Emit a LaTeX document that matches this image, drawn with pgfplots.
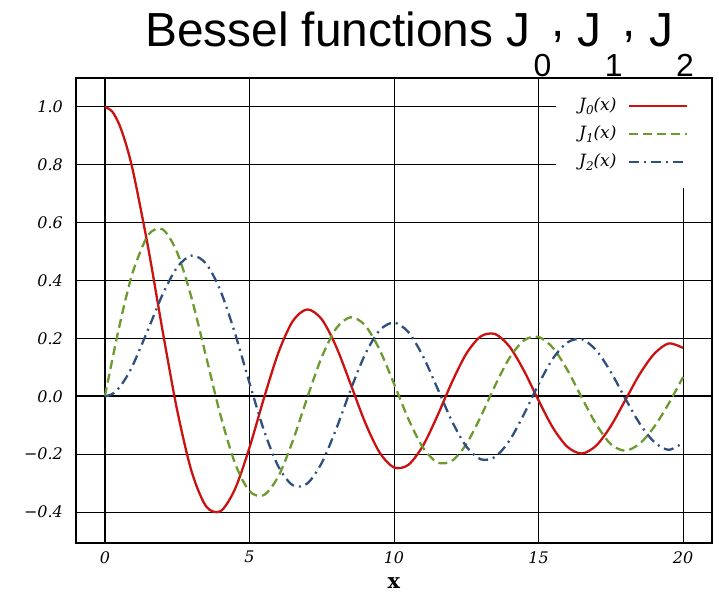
\documentclass[border=0pt]{standalone}
\usepackage{fontspec}
\usepackage{pgfplots}
\pgfplotsset{compat=1.18}
\setmainfont{DejaVu Serif}
\newfontfamily\lib{Liberation Sans}
\definecolor{jred}{RGB}{204,17,17}
\definecolor{jgreen}{RGB}{107,154,46}
\definecolor{jblue}{RGB}{47,79,127}
% title subscripts: big and dropped well below the baseline, as in the reference
\newcommand\sub[1]{\hspace{3bp}\raisebox{-30bp}{\fontsize{32}{32}\selectfont #1}}
\newcommand\lj[1]{J\raisebox{-4bp}{\fontsize{12}{12}\selectfont #1}(x)}
\begin{document}
\begin{tikzpicture}
\useasboundingbox (-76bp,-50bp) rectangle (643bp,543bp);
\begin{axis}[
    scale only axis,
    width=636bp, height=465bp,
    xmin=-1, xmax=21,
    ymin=-0.507, ymax=1.1,
    xtick={5,10,15,20},
    xticklabels={5,10,15,20},
    ytick={-0.4,-0.2,0.2,0.4,0.6,0.8,1.0},
    yticklabels={−0.4,−0.2,0.2,0.4,0.6,0.8,1.0},
    extra x ticks={0},
    extra x tick labels={0},
    extra y ticks={0},
    extra y tick labels={0.0},
    extra tick style={grid style={black, line width=2.2bp}},
    grid=major,
    grid style={black, line width=1bp},
    major tick length=0pt,
    axis line style={line width=2.2bp},
    tick label style={font=\itshape\fontsize{16}{16}\selectfont, inner sep=0pt},
    yticklabel style={xshift=-13bp},
    xticklabel style={yshift=-8bp},
    xlabel={\textbf{x}},
    xlabel style={font=\fontsize{21}{21}\selectfont, at={(axis description cs:0.5,0)}, anchor=base, yshift=-45bp, inner sep=0pt},
    legend plot pos=right,
    legend cell align=left,
    legend image code/.code={\draw[#1] (0bp,0bp) -- (58bp,0bp);},
    legend style={at={(1,1)}, anchor=north east, xshift=-1.1bp, yshift=-1.1bp,
        draw=none, fill=white, inner xsep=23bp, inner ysep=19bp,
        row sep=13bp, column sep=11bp,
        font=\itshape\fontsize{17}{17}\selectfont,
        nodes={inner sep=0pt, text height=12bp, text depth=3bp}},
]
\addplot[jred, line width=2.3bp, smooth] coordinates {
(0,1.0) (0.25,0.9844) (0.5,0.9385) (0.75,0.8642) (1,0.7652) (1.5,0.5118) (2,0.2239) (2.5,-0.0484) (3,-0.2601) (3.5,-0.3801)
(4,-0.3971) (4.5,-0.3205) (5,-0.1776) (5.5,-0.0068) (6,0.1506) (6.5,0.2601) (7,0.3001) (7.5,0.2663)
(8,0.1717) (8.5,0.0419) (9,-0.0903) (9.5,-0.1939) (10,-0.2459) (10.5,-0.2366) (11,-0.1712) (11.5,-0.0677)
(12,0.0477) (12.5,0.1469) (13,0.2069) (13.5,0.2150) (14,0.1711) (14.5,0.0875) (15,-0.0142) (15.5,-0.1092)
(16,-0.1749) (16.5,-0.1977) (17,-0.1699) (17.5,-0.1029) (18,-0.0134) (18.5,0.0768) (19,0.1466) (19.5,0.1826)
(20,0.1670)
};
\addlegendentry{\lj{0}}
\addplot[jgreen, line width=2.3bp, smooth, dash pattern=on 9bp off 5bp] coordinates {
(0,0) (0.25,0.1240) (0.5,0.2423) (0.75,0.3492) (1,0.4401) (1.5,0.5579) (2,0.5767) (2.5,0.4971) (3,0.3391) (3.5,0.1374)
(4,-0.0660) (4.5,-0.2311) (5,-0.3276) (5.5,-0.3414) (6,-0.2767) (6.5,-0.1538) (7,-0.0047) (7.5,0.1352)
(8,0.2346) (8.5,0.2731) (9,0.2453) (9.5,0.1613) (10,0.0435) (10.5,-0.0789) (11,-0.1768) (11.5,-0.2284)
(12,-0.2234) (12.5,-0.1655) (13,-0.0703) (13.5,0.0380) (14,0.1334) (14.5,0.1934) (15,0.2051) (15.5,0.1672)
(16,0.0904) (16.5,-0.0056) (17,-0.0977) (17.5,-0.1655) (18,-0.1880) (18.5,-0.1634) (19,-0.1057) (19.5,-0.0255)
(20,0.0668)
};
\addlegendentry{\lj{1}}
\addplot[jblue, line width=2.3bp, smooth, dash pattern=on 10bp off 5bp on 2bp off 5bp] coordinates {
(0,0) (0.25,0.0077) (0.5,0.0306) (0.75,0.0671) (1,0.1149) (1.5,0.2321) (2,0.3528) (2.5,0.4461) (3,0.4861) (3.5,0.4586)
(4,0.3641) (4.5,0.2178) (5,0.0466) (5.5,-0.1173) (6,-0.2429) (6.5,-0.3074) (7,-0.3014) (7.5,-0.2303)
(8,-0.1130) (8.5,0.0223) (9,0.1448) (9.5,0.2279) (10,0.2546) (10.5,0.2216) (11,0.1390) (11.5,0.0280)
(12,-0.0849) (12.5,-0.1734) (13,-0.2177) (13.5,-0.2094) (14,-0.1520) (14.5,-0.0609) (15,0.0416) (15.5,0.1308)
(16,0.1862) (16.5,0.1970) (17,0.1584) (17.5,0.0840) (18,-0.0075) (18.5,-0.0944) (19,-0.1578) (19.5,-0.1849)
(20,-0.1603)
};
\addlegendentry{\lj{2}}
\end{axis}
\node[anchor=base west, inner sep=0pt, font=\lib\fontsize{48}{48}\selectfont] at (69bp,496bp)
  {Bessel functions J\sub{0}\raisebox{10bp}{,} J\sub{1}\raisebox{10bp}{,} J\sub{2}};
\end{tikzpicture}
\end{document}
